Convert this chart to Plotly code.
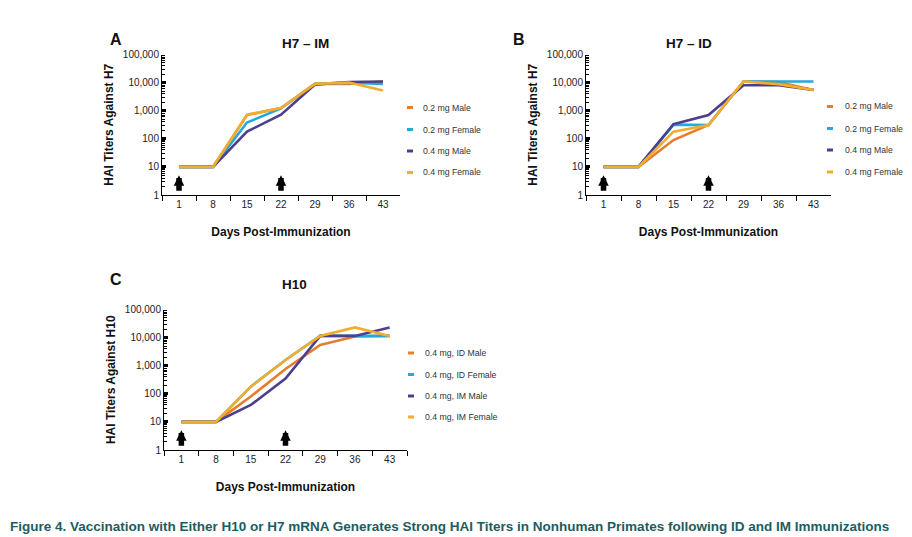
import plotly.graph_objects as go

days = ["1", "8", "15", "22", "29", "36", "43"]
arrow_days = ["1", "22"]

names_h7 = ["0.2 mg Male", "0.2 mg Female", "0.4 mg Male", "0.4 mg Female"]
names_h10 = ["0.4 mg, ID Male", "0.4 mg, ID Female", "0.4 mg, IM Male", "0.4 mg, IM Female"]
colors = ["#e67e2e", "#25a9dc", "#4d3f8e", "#f2ad2c"]

# Panel A: H7 - IM
h7_im_02_male = [10, 10, 700, 1250, 9000, 9000, 11000]
h7_im_02_female = [10, 10, 380, 1200, 9000, 10000, 9000]
h7_im_04_male = [10, 10, 180, 720, 8500, 10500, 11000]
h7_im_04_female = [10, 10, 720, 1250, 9000, 10000, 5200]

# Panel B: H7 - ID
h7_id_02_male = [10, 10, 90, 310, 11000, 10500, 5500]
h7_id_02_female = [10, 10, 320, 310, 11000, 11000, 11000]
h7_id_04_male = [10, 10, 330, 700, 8000, 8000, 5500]
h7_id_04_female = [10, 10, 180, 310, 11000, 8700, 5500]

# Panel C: H10
h10_id_male = [10, 10, 80, 760, 5500, 11000, 11500]
h10_id_female = [10, 10, 180, 1600, 11500, 11500, 11500]
h10_im_male = [10, 10, 40, 350, 11500, 11500, 23000]
h10_im_female = [10, 10, 180, 1600, 11500, 23000, 11500]

W, H = 912, 537
def px(x): return x / W
def py(y): return 1 - y / H

panels = [
    dict(xa="x", ya="y", series=[h7_im_02_male, h7_im_02_female, h7_im_04_male, h7_im_04_female],
         names=names_h7, xdom=(162, 400), ydom=(195, 54.5), title="H7 \u2013 IM", tx=280, ty=34,
         letter="A", lx=108, ly=29, ytitle="HAI Titers Against H7",
         leg_key=(407, 413), leg_text=421, leg_y=[107.5, 129.5, 151, 172.5]),
    dict(xa="x2", ya="y2", series=[h7_id_02_male, h7_id_02_female, h7_id_04_male, h7_id_04_female],
         names=names_h7, xdom=(586, 831), ydom=(195, 54.5), title="H7 \u2013 ID", tx=714, ty=34,
         letter="B", lx=519, ly=29, ytitle="HAI Titers Against H7",
         leg_key=(827, 833), leg_text=843, leg_y=[106.5, 128.5, 150, 172]),
    dict(xa="x3", ya="y3", series=[h10_id_male, h10_id_female, h10_im_male, h10_im_female],
         names=names_h10, xdom=(164, 407), ydom=(450, 309.5), title="H10", tx=280, ty=284,
         letter="C", lx=108, ly=279, ytitle="HAI Titers Against H10",
         leg_key=(408, 414), leg_text=423, leg_y=[353, 374.5, 396, 417]),
]

fig = go.Figure()
annotations = []
shapes = []
font_family = "Liberation Sans, Arial, sans-serif"

for i, p in enumerate(panels):
    for vals, nm, col in zip(p["series"], p["names"], colors):
        fig.add_trace(go.Scatter(x=days, y=vals, name=nm, mode="lines",
                                 line=dict(color=col, width=2.6),
                                 xaxis=p["xa"], yaxis=p["ya"], showlegend=False))
    sfx = "" if i == 0 else str(i + 1)
    fig.update_layout(**{
        "xaxis" + sfx: dict(
            domain=[px(p["xdom"][0]), px(p["xdom"][1])], anchor=p["ya"], automargin=False,
            type="category", categoryorder="array", categoryarray=days,
            range=[-0.5, 6.5], showline=True, linecolor="black", linewidth=1,
            ticks="outside", tickson="boundaries", ticklen=5, tickcolor="black",
            tickfont=dict(size=10, color="#222", family=font_family),
            showgrid=False, zeroline=False,
            title=dict(text="<b>Days Post-Immunization</b>", standoff=18,
                       font=dict(size=12, color="#111", family=font_family)),
        ),
        "yaxis" + sfx: dict(
            domain=[py(p["ydom"][0]), py(p["ydom"][1])], anchor=p["xa"], automargin=False,
            type="log", range=[0, 5], dtick=1, tickformat=",d",
            showline=True, linecolor="black", linewidth=1,
            ticks="inside", ticklen=4, tickwidth=3, tickcolor="black",
            minor=dict(ticks="inside", ticklen=3, tickwidth=1, tickcolor="black", showgrid=False),
            tickfont=dict(size=10, color="#222", family=font_family),
            showgrid=False, zeroline=False,
            title=dict(text="<b>" + p["ytitle"] + "</b>", standoff=6,
                       font=dict(size=12, color="#111", family=font_family)),
        ),
    })
    annotations.append(dict(text="<b>" + p["title"] + "</b>", x=px(p["tx"]), y=py(p["ty"]),
                            xref="paper", yref="paper", showarrow=False,
                            font=dict(size=13.5, color="#111", family=font_family)))
    annotations.append(dict(text="<b>" + p["letter"] + "</b>", x=px(p["lx"]), y=py(p["ly"]),
                            xref="paper", yref="paper", showarrow=False,
                            font=dict(size=16, color="#111", family=font_family)))
    for d in arrow_days:
        annotations.append(dict(text="", x=days.index(d), y=0.7, xref=p["xa"], yref=p["ya"],
                                showarrow=True, ax=0, ay=17, arrowhead=2, arrowsize=0.38,
                                arrowwidth=5.5, arrowcolor="black"))
    for nm, col, ly in zip(p["names"], colors, p["leg_y"]):
        shapes.append(dict(type="line", xref="paper", yref="paper",
                           x0=px(p["leg_key"][0]), x1=px(p["leg_key"][1]), y0=py(ly), y1=py(ly),
                           line=dict(color=col, width=3)))
        annotations.append(dict(text=nm, x=px(p["leg_text"]), y=py(ly), xref="paper", yref="paper",
                                xanchor="left", yanchor="middle", showarrow=False,
                                font=dict(size=8.7, color="#333", family=font_family)))

annotations.append(dict(
    text="<b>Figure 4. Vaccination with Either H10 or H7 mRNA Generates Strong HAI Titers in Nonhuman Primates following ID and IM Immunizations</b>",
    x=px(8), y=py(526), xref="paper", yref="paper", xanchor="left", yanchor="middle", showarrow=False,
    font=dict(size=13.5, color="#1d5c5f", family=font_family)))

fig.update_layout(width=W, height=H, margin=dict(l=0, r=0, t=0, b=0, autoexpand=False),
                  paper_bgcolor="white", plot_bgcolor="white", showlegend=False,
                  annotations=annotations, shapes=shapes)
fig.write_html("out.html", config={"displayModeBar": False},
               post_script="document.body.style.margin='0';document.body.style.overflow='hidden';")
